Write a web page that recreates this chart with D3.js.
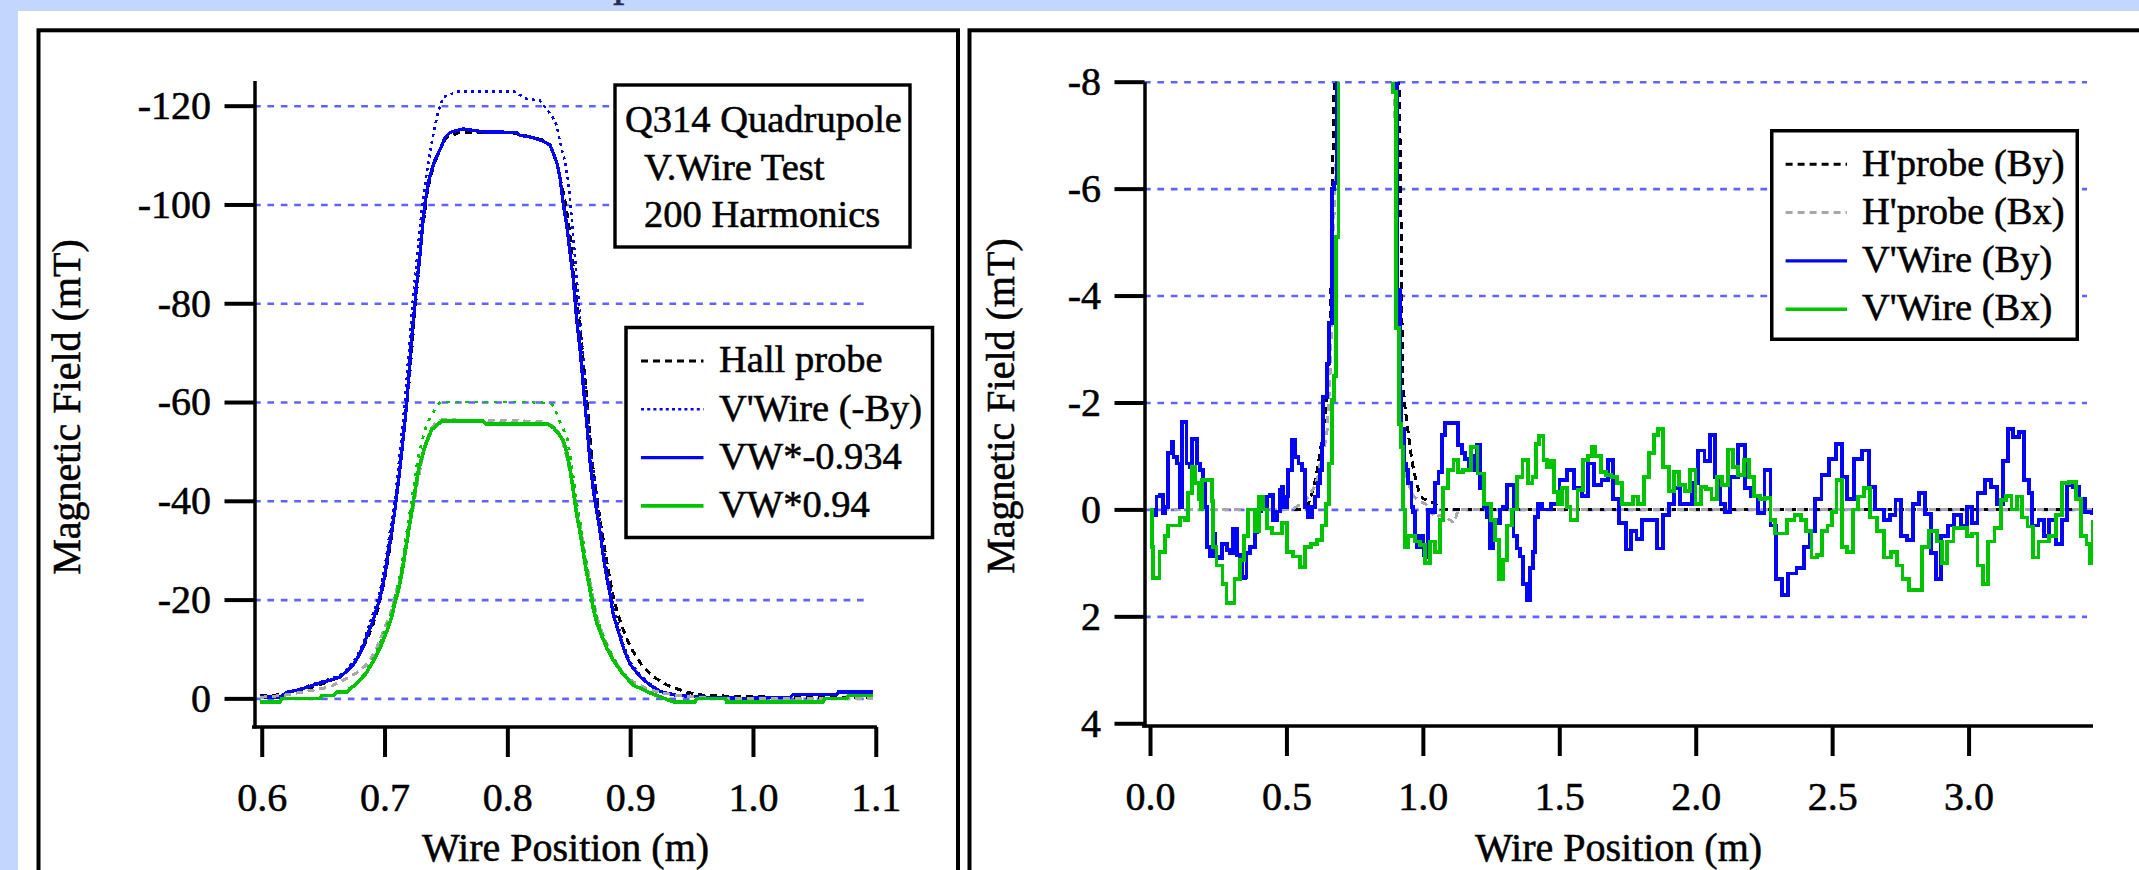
<!DOCTYPE html>
<html><head><meta charset="utf-8">
<script src="https://cdn.jsdelivr.net/npm/d3@7"></script>
<style>
html,body{margin:0;padding:0;background:#c3d6fd;overflow:hidden}
svg{display:block}
text{stroke:#000;stroke-width:0.55px;fill:#000}
</style></head><body>
<svg id="chart" width="2139" height="870"></svg>
<script>
// ---------------- data ----------------
const leftXTicks = [0.6, 0.7, 0.8, 0.9, 1.0, 1.1];
const leftXTickLabels = ["0.6", "0.7", "0.8", "0.9", "1.0", "1.1"];
const leftYTicks = [-120, -100, -80, -60, -40, -20, 0];
const leftYTickLabels = ["-120", "-100", "-80", "-60", "-40", "-20", "0"];
const rightXTicks = [0, 0.5, 1, 1.5, 2, 2.5, 3];
const rightXTickLabels = ["0.0", "0.5", "1.0", "1.5", "2.0", "2.5", "3.0"];
const rightYTicks = [-8, -6, -4, -2, 0, 2, 4];
const rightYTickLabels = ["-8", "-6", "-4", "-2", "0", "2", "4"];
const rightGridTicks = [-8, -6, -4, -2, 0, 2];

const infoLines = ["Q314 Quadrupole", "V.Wire Test", "200 Harmonics"];
const leftLegendNames = ["Hall probe", "V'Wire (-By)", "VW*-0.934", "VW*0.94"];
const rightLegendNames = ["H'probe (By)", "H'probe (Bx)", "V'Wire (By)", "V'Wire (Bx)"];

// Left panel: [position (m), field (mT)]
const hallByL = [[0.5986,-0.6],[0.61,-0.6],[0.62,-1.0],[0.63,-1.5],[0.64,-2.2],[0.65,-3.0],[0.66,-4.0],[0.67,-5.5],[0.675,-7.0],[0.68,-9.0],[0.685,-11.5],[0.69,-14.5],[0.695,-18.5],[0.70,-24],[0.705,-31.5],[0.71,-41],[0.715,-52],[0.72,-64],[0.725,-79],[0.73,-93],[0.735,-103],[0.74,-108],[0.745,-111],[0.75,-113.5],[0.76,-114.5],[0.78,-114.6],[0.80,-114.5],[0.81,-114.2],[0.82,-113.6],[0.83,-113],[0.835,-112],[0.84,-108.5],[0.845,-103],[0.8475,-100],[0.85,-96],[0.855,-84],[0.86,-73],[0.865,-60],[0.8675,-53],[0.87,-46],[0.875,-37],[0.88,-29],[0.885,-22],[0.89,-17],[0.895,-13.5],[0.90,-10.5],[0.91,-6.5],[0.92,-4.2],[0.93,-2.7],[0.945,-1.3],[0.96,-0.6],[1.0,-0.3],[1.05,-0.2],[1.098,-0.2]];
const vwRawByL = [[0.5986,-0.3],[0.6149,-0.3],[0.6204,-1.3],[0.6312,-1.9],[0.6407,-2.8],[0.6529,-3.7],[0.6638,-4.6],[0.6692,-5.9],[0.6746,-7.3],[0.6787,-9.1],[0.6827,-11.2],[0.6868,-14.3],[0.6923,-18.3],[0.6958,-21],[0.7004,-27],[0.7059,-36.3],[0.709,-41],[0.7167,-60.4],[0.723,-80.5],[0.7311,-101],[0.7338,-105.5],[0.7384,-112.6],[0.7419,-116.8],[0.7438,-118.9],[0.7479,-121.8],[0.7533,-122.2],[0.7588,-122.9],[0.8049,-122.9],[0.8103,-122.2],[0.8158,-121.4],[0.8266,-121],[0.832,-119.3],[0.8361,-118],[0.8402,-116],[0.8429,-112.6],[0.847,-108.6],[0.8497,-104.5],[0.8525,-97],[0.8555,-88],[0.8595,-76],[0.8636,-63],[0.8676,-51],[0.8717,-43],[0.8755,-36],[0.8782,-30.7],[0.8809,-26.2],[0.884,-22],[0.8863,-18.1],[0.8904,-14.6],[0.8945,-10.9],[0.8999,-7.4],[0.9081,-4.7],[0.9162,-2.9],[0.9244,-1.5],[0.938,-0.6],[0.9651,-0.2],[0.9922,0],[1.0302,-0.2],[1.0329,-0.9],[1.0682,-0.9],[1.0695,-1.4],[1.098,-1.4]];
const vwByL = [[0.5986,-0.3],[0.6149,-0.3],[0.6204,-1.2],[0.6312,-1.8],[0.6407,-2.6],[0.6529,-3.5],[0.6638,-4.3],[0.6692,-5.5],[0.6746,-6.8],[0.6787,-8.5],[0.6827,-10.5],[0.6868,-13.4],[0.6896,-15],[0.6923,-17.1],[0.695,-19.3],[0.6977,-21.8],[0.7004,-25.2],[0.7031,-29.6],[0.7059,-33.9],[0.7085,-38.3],[0.7112,-43.6],[0.714,-49.8],[0.7167,-56.4],[0.7181,-59.8],[0.7202,-66.4],[0.7221,-73],[0.724,-78],[0.7262,-83.9],[0.7289,-89.9],[0.7311,-96],[0.733,-100.3],[0.7357,-104.5],[0.7384,-107],[0.7411,-109],[0.7452,-111.1],[0.7493,-113.6],[0.7533,-114.6],[0.7642,-115.3],[0.7805,-114.7],[0.8077,-114.6],[0.8103,-114],[0.8199,-113.6],[0.8293,-112.8],[0.8348,-112],[0.8375,-110.3],[0.8402,-108.6],[0.8429,-105.3],[0.8456,-100],[0.8484,-95.8],[0.8511,-90],[0.8537,-84.9],[0.8565,-76.5],[0.8592,-70.6],[0.8619,-63.1],[0.8647,-55.5],[0.8673,-48],[0.87,-42.1],[0.8728,-37.9],[0.8755,-33.7],[0.8782,-28.7],[0.8809,-24.5],[0.8836,-21.1],[0.8863,-16.9],[0.8904,-13.6],[0.8945,-10.2],[0.8999,-6.9],[0.9081,-4.4],[0.9162,-2.7],[0.9244,-1.4],[0.938,-0.6],[0.9651,-0.2],[0.9922,0],[1.0302,-0.2],[1.0329,-0.8],[1.0682,-0.8],[1.0695,-1.3],[1.098,-1.3]];
const hallBxL = [[0.5986,-0.2],[0.6176,-0.6],[0.6312,-1.2],[0.6448,-1.8],[0.6556,-2.3],[0.6719,-4.4],[0.68,-5.6],[0.6855,-6.9],[0.6896,-8.4],[0.6936,-10.2],[0.6977,-12.7],[0.7018,-15.3],[0.7045,-16.9],[0.7072,-19.4],[0.7099,-22],[0.7126,-24.5],[0.7153,-27.8],[0.7181,-32],[0.7208,-35.4],[0.7234,-38.7],[0.7262,-42.9],[0.7289,-46.3],[0.7316,-49.6],[0.7343,-52.2],[0.7384,-54.7],[0.7425,-56],[0.7465,-56.4],[0.83,-56.1],[0.8375,-55],[0.8416,-54],[0.8456,-51.5],[0.8484,-49],[0.8511,-45.5],[0.8537,-42.5],[0.8565,-38],[0.8592,-35],[0.8619,-31],[0.8647,-27],[0.8673,-23.5],[0.87,-20],[0.8728,-16.5],[0.8768,-13.5],[0.8809,-11],[0.8863,-8],[0.8945,-5],[0.9026,-3.3],[0.9135,-2],[0.9244,-1.2],[0.938,-0.6],[0.952,-0.3],[0.965,0],[1.098,0]];
const vwRawBxL = [[0.5986,0.7],[0.6149,0.7],[0.6163,0],[0.6475,0],[0.6488,-0.6],[0.6583,-0.6],[0.6611,-1.4],[0.669,-1.4],[0.672,-2.1],[0.676,-2.9],[0.68,-3.9],[0.684,-5.1],[0.688,-6.8],[0.692,-8.6],[0.696,-10.9],[0.70,-13.5],[0.703,-15.3],[0.706,-17.6],[0.7085,-20.6],[0.711,-23.2],[0.714,-26.8],[0.7167,-31.3],[0.7194,-35.7],[0.7221,-40.2],[0.7248,-44.6],[0.7275,-49],[0.7302,-51.7],[0.733,-54.4],[0.7357,-56.2],[0.7384,-57.3],[0.741,-58.5],[0.7452,-60],[0.82,-60],[0.8348,-59.7],[0.8375,-59.3],[0.8416,-56.8],[0.8443,-55.2],[0.8484,-53],[0.8511,-49.3],[0.8537,-44.8],[0.8565,-39.5],[0.8592,-35.8],[0.8619,-31.4],[0.8647,-26.9],[0.8673,-23.4],[0.87,-19.4],[0.8728,-16.3],[0.8768,-13.5],[0.8809,-10.9],[0.8863,-8.2],[0.8945,-5.1],[0.9026,-2.9],[0.9135,-1.5],[0.9244,-0.3],[0.9352,0.7],[0.9529,0.7],[0.9542,0],[0.9773,0],[0.9786,0.7],[1.0573,0.7],[1.0587,0],[1.0763,0],[1.0777,-0.6],[1.098,-0.6]];
const vwBxL = [[0.5986,0.7],[0.6149,0.7],[0.6163,0],[0.6475,0],[0.6488,-0.6],[0.6583,-0.6],[0.6611,-1.3],[0.6692,-1.3],[0.6719,-2],[0.676,-2.7],[0.68,-3.7],[0.6841,-4.8],[0.6882,-6.4],[0.6923,-8.1],[0.6963,-10.2],[0.7004,-12.7],[0.7031,-14.4],[0.7059,-16.5],[0.7085,-19.4],[0.7112,-21.8],[0.714,-25.2],[0.7167,-29.4],[0.7194,-33.6],[0.7221,-37.8],[0.7248,-41.9],[0.7275,-46.1],[0.7302,-48.6],[0.733,-51.1],[0.7357,-52.8],[0.7384,-54.4],[0.7425,-55.3],[0.7465,-56.1],[0.7805,-56.1],[0.7832,-55.5],[0.8334,-55.5],[0.8375,-54.8],[0.8416,-53.6],[0.8456,-52.2],[0.8484,-49.7],[0.8511,-46.3],[0.8537,-42.1],[0.8565,-37.1],[0.8592,-33.7],[0.8619,-29.5],[0.8647,-25.3],[0.8673,-22],[0.87,-18.2],[0.8728,-15.3],[0.8768,-12.7],[0.8809,-10.2],[0.8863,-7.7],[0.8945,-4.8],[0.9026,-2.7],[0.9135,-1.4],[0.9244,-0.3],[0.9352,0.7],[0.9529,0.7],[0.9542,0],[0.9773,0],[0.9786,0.7],[1.0573,0.7],[1.0587,0],[1.0763,0],[1.0777,-0.6],[1.098,-0.6]];

// Right panel: [position (m), field (mT)]
const hpByR = [[0,0],[0.55,0],[0.58,-0.1],[0.6,-0.4],[0.615,-0.8],[0.63,-1.3],[0.645,-1.9],[0.656,-2.8],[0.663,-4.0],[0.668,-6.0],[0.671,-6.7],[0.68,-9.5],[0.72,-64],[0.76,-114],[0.84,-110],[0.88,-30],[0.905,-10],[0.912,-8],[0.918,-6.5],[0.922,-4.2],[0.926,-2.4],[0.935,-1.9],[0.947,-1.4],[0.96,-0.9],[0.972,-0.6],[0.985,-0.35],[1.0,-0.2],[1.03,-0.15],[1.05,-0.08],[1.07,0],[3.456,0]];
const hpBxR = [[0,0],[0.52,0],[0.57,-0.15],[0.6,-0.4],[0.615,-0.6],[0.625,-0.9],[0.635,-1.1],[0.648,-1.4],[0.655,-2.0],[0.662,-2.8],[0.668,-4.5],[0.675,-5.6],[0.682,-6.5],[0.69,-8.5],[0.72,-40],[0.76,-56],[0.84,-55],[0.87,-25],[0.893,-9],[0.9,-6.5],[0.905,-4.6],[0.912,-2.5],[0.92,-1.5],[0.93,-1.1],[0.94,-0.6],[0.953,-0.4],[0.965,-0.25],[0.99,-0.15],[1.01,-0.1],[1.03,0.05],[1.045,0.15],[1.07,0.1],[1.1,0.2],[1.115,0.25],[1.13,0],[3.456,0]];
const vwByR = [[0,0.01],[0.012,0.11],[0.024,-0.24],[0.037,-0.27],[0.049,0.07],[0.055,-0.05],[0.067,-1.05],[0.079,-1.26],[0.086,-0.98],[0.098,-0.86],[0.11,-0.05],[0.116,-1.64],[0.128,-1.64],[0.134,-0.86],[0.147,-0.8],[0.153,-1.31],[0.165,-1.31],[0.171,-0.86],[0.183,-0.74],[0.195,-0.55],[0.202,-0.05],[0.208,0.7],[0.22,0.88],[0.232,0.45],[0.238,0.88],[0.25,0.92],[0.263,0.64],[0.281,0.76],[0.293,0.82],[0.305,0.36],[0.318,0.85],[0.33,0.88],[0.336,1.29],[0.348,1.26],[0.354,0.82],[0.367,0.7],[0.379,0.7],[0.385,0.42],[0.393,0.04],[0.406,-0.24],[0.418,-0.05],[0.428,-0.24],[0.44,-0.27],[0.452,0.2],[0.464,0.04],[0.476,-0.36],[0.483,-0.42],[0.489,-0.05],[0.501,-0.24],[0.507,-0.74],[0.519,-1.3],[0.531,-0.98],[0.544,-0.86],[0.556,-0.74],[0.568,-0.05],[0.58,0.14],[0.593,-0.05],[0.605,-0.24],[0.617,-0.49],[0.623,-0.74],[0.629,-1.23],[0.635,-2.1],[0.648,-2.73],[0.657,-3.48],[0.666,-6.0],[0.675,-6.1],[0.684,-8.5],[0.69,-15],[0.72,-70],[0.76,-115],[0.84,-110],[0.88,-25],[0.903,-8.5],[0.906,-4.1],[0.915,-2.2],[0.922,-1.5],[0.93,-0.86],[0.94,-0.74],[0.947,-0.5],[0.958,-0.05],[0.965,0.05],[0.971,0.5],[0.977,0.7],[0.99,0.5],[1.002,0.85],[1.014,0.9],[1.02,0.0],[1.032,0.05],[1.045,-0.5],[1.057,-0.7],[1.069,-1.39],[1.081,-1.62],[1.118,-1.62],[1.13,-1.2],[1.142,-1.05],[1.155,-0.95],[1.167,-0.74],[1.185,-0.74],[1.191,-1.0],[1.197,-1.2],[1.21,-0.4],[1.222,-0.05],[1.234,0.14],[1.246,0.73],[1.258,0.2],[1.271,0.26],[1.283,0.0],[1.295,-0.05],[1.307,-0.45],[1.32,-0.45],[1.332,0.5],[1.344,0.73],[1.356,0.88],[1.368,1.4],[1.381,1.7],[1.393,1.1],[1.405,0.8],[1.411,0.14],[1.423,-0.1],[1.436,0],[1.469,-0.1],[1.501,-0.55],[1.528,-0.74],[1.554,-0.4],[1.584,-0.25],[1.606,-0.86],[1.626,-0.45],[1.655,-0.55],[1.678,-0.92],[1.698,-0.2],[1.718,0.26],[1.744,0.75],[1.763,0.4],[1.783,0.55],[1.803,0.2],[1.833,0.2],[1.859,0.73],[1.881,0.1],[1.901,-0.1],[1.92,-0.4],[1.943,-0.1],[1.986,-0.5],[2.008,-1.1],[2.032,-0.9],[2.051,-1.39],[2.071,-0.6],[2.091,-0.1],[2.108,0.05],[2.126,-0.6],[2.156,-1.2],[2.182,-0.4],[2.204,-0.25],[2.228,0.07],[2.252,-0.74],[2.274,0.3],[2.293,1.3],[2.317,1.6],[2.339,1.2],[2.369,1.1],[2.398,0.7],[2.418,0.4],[2.437,-0.2],[2.461,-0.65],[2.487,-0.95],[2.513,-1.23],[2.536,-0.6],[2.555,-0.2],[2.579,-0.95],[2.61,-1.1],[2.634,-0.42],[2.657,0.0],[2.689,0.2],[2.712,0.1],[2.732,-0.17],[2.752,0.5],[2.775,0.57],[2.797,-0.1],[2.817,-0.3],[2.841,0.08],[2.863,0.82],[2.88,1.3],[2.898,0.5],[2.924,0.3],[2.948,0.1],[2.972,0.3],[2.994,-0.05],[3.013,0.25],[3.033,-0.3],[3.059,-0.55],[3.082,-0.42],[3.105,-0.1],[3.125,-0.9],[3.144,-1.5],[3.164,-1.35],[3.184,-1.45],[3.203,-0.55],[3.22,-0.3],[3.233,0.3],[3.256,0.2],[3.275,0.5],[3.295,0.2],[3.321,0.65],[3.341,0.2],[3.36,-0.45],[3.383,-0.42],[3.406,-0.2],[3.426,0.05],[3.452,0.1]];
const vwBxR = [[0,0.0],[0.006,0.7],[0.012,1.29],[0.024,1.29],[0.035,0.8],[0.043,0.8],[0.055,0.5],[0.067,0.3],[0.092,0.3],[0.11,0.15],[0.128,0.2],[0.14,-0.3],[0.153,-0.8],[0.165,-0.5],[0.178,-0.2],[0.185,0.0],[0.19,-0.55],[0.208,-0.55],[0.226,-0.15],[0.232,0.7],[0.244,1.05],[0.257,1.05],[0.266,1.4],[0.28,1.75],[0.296,1.75],[0.31,1.3],[0.33,0.95],[0.345,0.5],[0.36,0.0],[0.373,0.0],[0.385,0.4],[0.4,-0.24],[0.415,0.0],[0.428,0.35],[0.446,0.45],[0.47,0.45],[0.483,0.25],[0.501,0.8],[0.525,0.88],[0.55,1.07],[0.568,0.7],[0.589,0.64],[0.611,0.57],[0.629,0.3],[0.644,-0.1],[0.656,-0.86],[0.668,-2.04],[0.675,-2.5],[0.682,-5.1],[0.691,-8.5],[0.70,-15],[0.72,-35],[0.76,-56],[0.84,-55],[0.87,-20],[0.883,-8.5],[0.892,-7.8],[0.903,-3.4],[0.912,-1.6],[0.92,-1.17],[0.928,0.0],[0.935,0.7],[0.947,0.5],[0.959,0.5],[0.971,0.6],[0.99,0.67],[1.008,1.0],[1.026,0.6],[1.045,0.8],[1.063,0.2],[1.075,-0.4],[1.093,-0.74],[1.112,-0.92],[1.13,-0.7],[1.148,-0.74],[1.176,-1.17],[1.2,-0.67],[1.225,-0.1],[1.249,0.2],[1.264,0.57],[1.28,1.3],[1.295,0.95],[1.307,0.3],[1.326,0.0],[1.344,-0.6],[1.365,-0.92],[1.385,-0.5],[1.402,-0.6],[1.414,-1.23],[1.426,-1.37],[1.442,-0.92],[1.455,-0.8],[1.469,-0.9],[1.482,-0.33],[1.495,-0.1],[1.511,-0.4],[1.528,-0.05],[1.541,0.2],[1.554,0.2],[1.567,-0.36],[1.587,-0.92],[1.606,-1.0],[1.619,-1.17],[1.632,-1.0],[1.652,-0.7],[1.672,-0.65],[1.691,-0.6],[1.711,-0.5],[1.731,-0.1],[1.75,-0.1],[1.77,-0.24],[1.789,-0.1],[1.809,-0.6],[1.829,-1.05],[1.846,-1.39],[1.861,-1.5],[1.881,-0.8],[1.901,-0.35],[1.92,-0.7],[1.94,-0.45],[1.96,-0.35],[1.979,-0.74],[1.999,-0.1],[2.019,-0.42],[2.038,-0.38],[2.058,-0.2],[2.077,-0.6],[2.097,-0.45],[2.117,-1.12],[2.136,-0.8],[2.156,-0.65],[2.176,-0.92],[2.195,-0.6],[2.215,-0.25],[2.235,-0.2],[2.254,-0.22],[2.274,0.2],[2.29,0.45],[2.309,0.45],[2.335,0.2],[2.362,0.1],[2.385,0.2],[2.405,0.4],[2.424,0.9],[2.444,0.85],[2.464,0.4],[2.483,0.3],[2.5,0.05],[2.516,-0.55],[2.536,0.7],[2.555,0.8],[2.575,0.0],[2.595,-0.24],[2.618,-0.4],[2.64,0.15],[2.663,0.4],[2.689,0.9],[2.715,0.8],[2.739,1.05],[2.758,1.3],[2.781,1.5],[2.807,1.5],[2.83,0.7],[2.856,0.4],[2.883,0.6],[2.902,1.0],[2.922,0.6],[2.945,0.35],[2.972,0.35],[2.994,0.5],[3.013,0.45],[3.033,1.05],[3.053,1.4],[3.072,0.6],[3.095,0.35],[3.118,-0.17],[3.138,-0.25],[3.157,0.0],[3.177,-0.24],[3.197,0.15],[3.216,0.32],[3.236,0.9],[3.256,0.6],[3.275,0.6],[3.295,0.5],[3.321,0.1],[3.341,-0.5],[3.367,-0.52],[3.393,-0.2],[3.413,0.5],[3.432,0.64],[3.445,1.0],[3.456,0.2]];

// ---------------- drawing ----------------
const FONT = "'Liberation Serif','Times New Roman',serif";
const BLUE = "#0505f5", GREEN = "#00c400", GRID = "#6262ff", GRAY = "#a8a8a8";
const svg = d3.select("#chart");

svg.append("rect").attr("x", 18).attr("y", 11).attr("width", 2139 - 18).attr("height", 870 - 11).attr("fill", "#fff");
svg.append("text").attr("x", 613).attr("y", -5).attr("font-family", FONT).attr("font-size", 46)
  .style("fill", "#2b2b55").style("stroke", "#2b2b55").text("p");
svg.append("rect").attr("x", 38.5).attr("y", 30.3).attr("width", 919.5).attr("height", 900)
  .attr("fill", "none").attr("stroke", "#000").attr("stroke-width", 4);
svg.append("rect").attr("x", 969.5).attr("y", 30.3).attr("width", 1300).attr("height", 900)
  .attr("fill", "none").attr("stroke", "#000").attr("stroke-width", 4);

function drawPanel(p) {
  const g = svg.append("g");
  const [x0, x1] = p.x.range();
  const [y0, y1] = p.y.range();

  const grid = g.append("g").attr("transform", `translate(${x0},0)`)
    .call(d3.axisLeft(p.y).tickValues(p.gridTicks).tickSize(-(p.x(p.gridEnd) - x0)).tickFormat(""));
  grid.select(".domain").remove();
  grid.selectAll("line").attr("stroke", GRID).attr("stroke-width", 2.6).attr("stroke-dasharray", "6.7,6.7");

  const clipId = "clip-" + p.name;
  svg.append("clipPath").attr("id", clipId).append("rect")
    .attr("x", x0).attr("y", y0).attr("width", x1 - x0).attr("height", y1 - y0);
  const lg = g.append("g").attr("clip-path", `url(#${clipId})`);
  p.series.forEach(s => {
    const line = d3.line().x(d => p.x(d[0])).y(d => p.y(d[1])).curve(s.curve || d3.curveLinear);
    lg.append("path").attr("d", line(s.data)).attr("fill", "none")
      .attr("stroke", s.color).attr("stroke-width", s.width)
      .attr("stroke-dasharray", s.dash || null)
      .attr("shape-rendering", "crispEdges");
  });

  const ya = g.append("g").attr("transform", `translate(${x0 + 0.5},0)`)
    .call(d3.axisLeft(p.y).tickValues(p.yTicks).tickFormat((d, i) => p.yLabels[i])
      .tickSize(30).tickSizeOuter(0).tickPadding(13.5));
  const xa = g.append("g").attr("transform", `translate(0,${y1 - 1})`)
    .call(d3.axisBottom(p.x).tickValues(p.xTicks).tickFormat((d, i) => p.xLabels[i])
      .tickSize(30).tickSizeOuter(0).tickPadding(25.5));
  [ya, xa].forEach(a => {
    a.attr("font-family", FONT).attr("font-size", 40);
    a.select(".domain").attr("stroke-width", 3.5);
    a.selectAll(".tick line").attr("stroke-width", 4);
  });
  xa.select(".domain").attr("d", `M${x0 - 2},0H${x1}`);

  g.append("text").attr("transform", `translate(${p.yTitleX},${p.yTitleY}) rotate(-90)`)
    .attr("text-anchor", "middle").attr("font-family", FONT).attr("font-size", 40)
    .text("Magnetic Field (mT)");
  g.append("text").attr("x", (x0 + x1) / 2).attr("y", 861)
    .attr("text-anchor", "middle").attr("font-family", FONT).attr("font-size", 40)
    .text("Wire Position (m)");
}

function drawLegend(box, rows, sample, textX) {
  const g = svg.append("g");
  g.append("rect").attr("x", box[0]).attr("y", box[1]).attr("width", box[2]).attr("height", box[3])
    .attr("fill", "#fff").attr("stroke", "#000").attr("stroke-width", 3.5);
  rows.forEach((r, i) => {
    const yy = box[1] + 33.5 + i * 48.3;
    g.append("line").attr("x1", sample[0]).attr("x2", sample[1]).attr("y1", yy).attr("y2", yy)
      .attr("stroke", r.color).attr("stroke-width", r.width).attr("stroke-dasharray", r.dash || null);
    g.append("text").attr("x", textX).attr("y", yy + 11.3).attr("font-family", FONT)
      .attr("font-size", 38.5).text(r.name);
  });
}

// Left panel
const xL = d3.scaleLinear().domain([0.5937, 1.101]).range([254, 877]);
const yL = d3.scaleLinear().domain([-125.1, 6]).range([80.5, 728]);
const leftSeries = [
  { data: hallByL, color: "#000", width: 3, dash: "7,5" },
  { data: vwRawByL, color: BLUE, width: 2.6, dash: "3,4" },
  { data: vwByL, color: BLUE, width: 3.3 },
  { data: hallBxL, color: GRAY, width: 3, dash: "7,5" },
  { data: vwRawBxL, color: GREEN, width: 2.8, dash: "3.5,6" },
  { data: vwBxL, color: GREEN, width: 3.6 }
];
drawPanel({ name: "L", x: xL, y: yL, xTicks: leftXTicks, xLabels: leftXTickLabels,
  yTicks: leftYTicks, yLabels: leftYTickLabels, gridTicks: leftYTicks, gridEnd: 1.094,
  series: leftSeries, yTitleX: 80, yTitleY: 407 });

// Right panel
const xR = d3.scaleLinear().domain([-0.022, 3.456]).range([1144, 2093]);
const yR = d3.scaleLinear().domain([-8, 4.07]).range([81.7, 727]);
const rightSeries = [
  { data: hpByR, color: "#000", width: 3, dash: "7,5" },
  { data: hpBxR, color: GRAY, width: 3, dash: "7,5" },
  { data: vwByR, color: BLUE, width: 3.8, curve: d3.curveStepAfter },
  { data: vwBxR, color: GREEN, width: 3.8, curve: d3.curveStepAfter }
];
drawPanel({ name: "R", x: xR, y: yR, xTicks: rightXTicks, xLabels: rightXTickLabels,
  yTicks: rightYTicks, yLabels: rightYTickLabels, gridTicks: rightGridTicks, gridEnd: 3.434,
  series: rightSeries, yTitleX: 1014, yTitleY: 406 });

// Info box (left)
const info = svg.append("g");
info.append("rect").attr("x", 615).attr("y", 85).attr("width", 295).attr("height", 162)
  .attr("fill", "#fff").attr("stroke", "#000").attr("stroke-width", 3.4);
infoLines.forEach((t, i) => {
  info.append("text").attr("x", i === 0 ? 625 : 644).attr("y", 131.8 + i * 47.7)
    .attr("font-family", FONT).attr("font-size", 38.5).text(t);
});

// Legends
drawLegend([626, 327.5, 306.5, 210], [
  { name: leftLegendNames[0], color: "#000", width: 3, dash: "7,5" },
  { name: leftLegendNames[1], color: BLUE, width: 2.6, dash: "3,3.2" },
  { name: leftLegendNames[2], color: BLUE, width: 3.3 },
  { name: leftLegendNames[3], color: GREEN, width: 3.8 }
], [641, 703.5], 719);
drawLegend([1771.75, 130.75, 305.5, 208.5], [
  { name: rightLegendNames[0], color: "#000", width: 3, dash: "7,5" },
  { name: rightLegendNames[1], color: GRAY, width: 3, dash: "7,5" },
  { name: rightLegendNames[2], color: BLUE, width: 3.3 },
  { name: rightLegendNames[3], color: GREEN, width: 3.5 }
], [1785.6, 1847], 1862);
</script>
</body></html>
